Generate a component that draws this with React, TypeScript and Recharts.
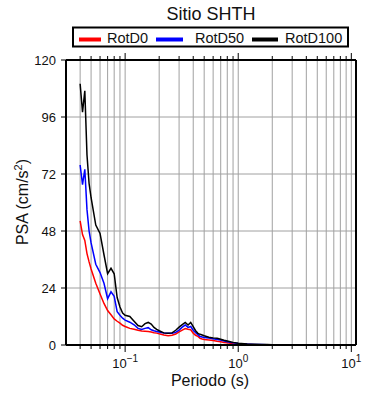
import React from 'react';
import { LineChart, Line, XAxis, YAxis, CartesianGrid } from 'recharts';

const periods = [
  0.04, 0.042, 0.044, 0.046, 0.048, 0.05, 0.055, 0.06, 0.065, 0.07, 0.075, 0.08, 0.085, 0.09, 0.095,
  0.1, 0.11, 0.12, 0.13, 0.14, 0.15, 0.16, 0.17, 0.18, 0.19, 0.2, 0.22, 0.24, 0.26, 0.28,
  0.3, 0.32, 0.34, 0.36, 0.38, 0.4, 0.42, 0.44, 0.46, 0.48, 0.5, 0.55, 0.6, 0.65, 0.7,
  0.75, 0.8, 0.85, 0.9, 0.95, 1, 1.2, 1.4, 1.6, 1.8, 2, 2.5, 3, 4, 5, 6, 7, 8, 9, 10,
];

const rotD0 = [
  52.3, 46.5, 44, 38.5, 35, 32, 26, 21.5, 17.5, 14.5, 12.7, 11, 10, 9.2, 8.3,
  7.8, 7, 6.6, 6.2, 5.9, 5.8, 5.7, 5.5, 5.2, 5, 4.7, 4.2, 3.9, 4.1, 4.6,
  5.5, 6.3, 6.9, 6.6, 6.4, 5, 4.1, 3.6, 2.8, 2.5, 2.3, 2.1, 1.9, 1.6, 1.4,
  1.1, 0.9, 0.7, 0.5, 0.4, 0.35, 0.22, 0.15, 0.11, 0.08, 0.06, 0.04, 0.03, 0.02, 0.015, 0.01, 0.01, 0.01, 0.01, 0.01,
];

const rotD50 = [
  75.8, 67.5, 74, 57, 48, 43, 34, 30.5, 26, 19.5, 22.4, 20.5, 14, 12.5, 11.3,
  10.5, 9.6, 8.5, 7, 6.5, 7, 7.3, 6.4, 6, 5.7, 5.5, 5, 4.9, 4.9, 5.3,
  6.3, 7.5, 8.4, 7.4, 7.8, 6.2, 5.2, 4.4, 3.6, 3.4, 3.2, 2.9, 2.6, 2.3, 2.1,
  1.7, 1.4, 1.1, 0.9, 0.8, 0.65, 0.4, 0.26, 0.18, 0.13, 0.1, 0.07, 0.05, 0.03, 0.02, 0.02, 0.015, 0.01, 0.01, 0.01,
];

const rotD100 = [
  110, 98, 107, 80, 68, 62, 50.5, 47, 38, 30, 32.3, 30, 20, 16, 13.5,
  12.5, 12, 10, 8.2, 7.7, 9, 9.5, 8.8, 7.4, 6.6, 6, 5.1, 4.9, 5.1, 6.2,
  7.5, 8.6, 9.5, 8.4, 9.5, 7.7, 6, 4.9, 4.5, 4.2, 3.9, 3.3, 3, 2.8, 2.4,
  2, 1.7, 1.4, 1.1, 0.9, 0.75, 0.45, 0.3, 0.22, 0.16, 0.12, 0.08, 0.06, 0.04, 0.03, 0.02, 0.02, 0.015, 0.01, 0.01,
];

const xTicks = [
  0.04, 0.05, 0.06, 0.07, 0.08, 0.09, 0.1, 0.2, 0.3, 0.4, 0.5, 0.6, 0.7, 0.8, 0.9,
  1, 2, 3, 4, 5, 6, 7, 8, 9, 10,
];
const yTicks = [0, 24, 48, 72, 96, 120];

const data = periods.map((p, i) => ({
  period: p,
  rotD0: rotD0[i],
  rotD50: rotD50[i],
  rotD100: rotD100[i],
}));

const FONT = '"Liberation Sans", Arial, sans-serif';

const isMajor = (v: number) => {
  const e = Math.round(Math.log10(v));
  return Math.abs(v - Math.pow(10, e)) < 1e-9;
};

const BottomTick = (props: any) => {
  const { x, y, payload } = props;
  const v = payload.value;
  const major = isMajor(v);
  const exp = Math.round(Math.log10(v));
  return (
    <g>
      <line x1={x} x2={x} y1={y} y2={y + (major ? 7 : 4)} stroke="#000" strokeWidth={1} />
      {major && (
        <text x={x} y={y + 23} textAnchor="middle" fontSize={13} fill="#111" fontFamily={FONT}>
          10
          <tspan dy={-6} fontSize={10}>{exp < 0 ? '\u2212' + Math.abs(exp) : String(exp)}</tspan>
        </text>
      )}
    </g>
  );
};

const TopTick = (props: any) => {
  const { x, y, payload } = props;
  const major = isMajor(payload.value);
  return <line x1={x} x2={x} y1={y} y2={y - (major ? 7 : 4)} stroke="#000" strokeWidth={1} />;
};

export default function App() {
  return (
    <div style={{ position: 'absolute', left: 0, top: 0, width: 390, height: 400, background: '#fff' }}>
      <LineChart
        width={390}
        height={400}
        data={data}
        margin={{ top: 40, right: 0, bottom: 0, left: 0 }}
      >
        <CartesianGrid stroke="#a0a0a0" strokeWidth={1} xAxisId="b" yAxisId="l" />
        <XAxis
          xAxisId="b"
          dataKey="period"
          type="number"
          scale="log"
          domain={[0.03, 11]}
          allowDataOverflow
          ticks={xTicks}
          interval={0}
          tick={<BottomTick />}
          tickLine={false}
          tickSize={0}
          tickMargin={0}
          height={55}
          axisLine={{ stroke: '#000', strokeWidth: 2 }}
        />
        <XAxis
          xAxisId="t"
          orientation="top"
          dataKey="period"
          type="number"
          scale="log"
          domain={[0.03, 11]}
          allowDataOverflow
          ticks={xTicks}
          interval={0}
          tick={<TopTick />}
          tickLine={false}
          tickSize={0}
          tickMargin={0}
          height={20}
          axisLine={{ stroke: '#000', strokeWidth: 2 }}
        />
        <YAxis
          yAxisId="l"
          type="number"
          domain={[0, 120]}
          ticks={yTicks}
          interval={0}
          width={66}
          tickSize={5}
          tickMargin={5}
          tickLine={{ stroke: '#000' }}
          axisLine={{ stroke: '#000', strokeWidth: 2 }}
          tick={{ fontSize: 13, fill: '#111', fontFamily: FONT }}
        />
        <YAxis
          yAxisId="r"
          orientation="right"
          type="number"
          domain={[0, 120]}
          ticks={yTicks}
          width={34}
          tick={false}
          tickLine={false}
          axisLine={{ stroke: '#000', strokeWidth: 2 }}
        />
        <Line xAxisId="b" yAxisId="l" dataKey="rotD0" stroke="#ff0000" strokeWidth={1.5} dot={false} isAnimationActive={false} />
        <Line xAxisId="b" yAxisId="l" dataKey="rotD50" stroke="#0000ff" strokeWidth={1.5} dot={false} isAnimationActive={false} />
        <Line xAxisId="b" yAxisId="l" dataKey="rotD100" stroke="#000000" strokeWidth={1.5} dot={false} isAnimationActive={false} />
      </LineChart>
      <svg
        width={390}
        height={400}
        style={{ position: 'absolute', left: 0, top: 0, pointerEvents: 'none' }}
        fontFamily={FONT}
      >
        <text x={211} y={20} textAnchor="middle" fontSize={18} fill="#111">Sitio SHTH</text>
        <rect x={73} y={27.5} width={275} height={19} fill="#fff" stroke="#000" strokeWidth={2} />
        <line x1={79} x2={101} y1={39.5} y2={39.5} stroke="#ff0000" strokeWidth={4} />
        <text x={107} y={43} fontSize={14.5} fill="#111">RotD0</text>
        <line x1={156} x2={183} y1={39.5} y2={39.5} stroke="#0000ff" strokeWidth={4} />
        <text x={195} y={43} fontSize={14.5} fill="#111">RotD50</text>
        <line x1={252} x2={278} y1={39.5} y2={39.5} stroke="#000" strokeWidth={4} />
        <text x={285} y={43} fontSize={14.5} fill="#111">RotD100</text>
        <text x={210} y={386} textAnchor="middle" fontSize={16} fill="#111">Periodo (s)</text>
        <text
          x={0}
          y={0}
          transform="translate(28 202) rotate(-90)"
          textAnchor="middle"
          fontSize={16}
          fill="#111"
        >
          PSA (cm/s<tspan dy={-6} fontSize={11}>2</tspan><tspan dy={6}>)</tspan>
        </text>
      </svg>
    </div>
  );
}
